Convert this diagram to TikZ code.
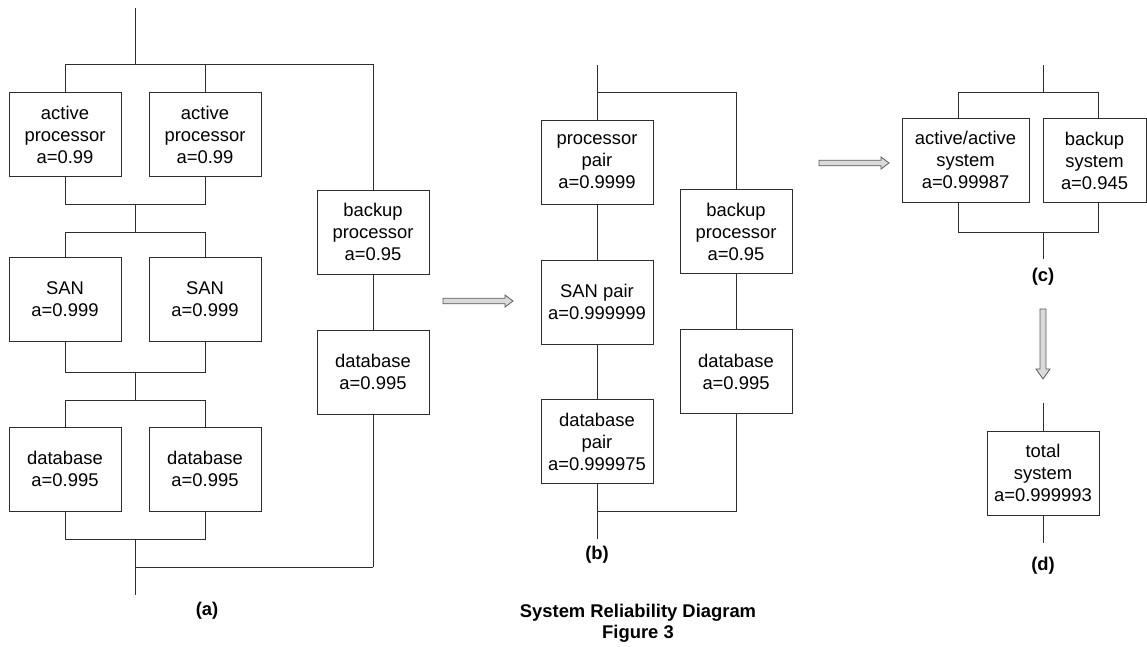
\documentclass[tikz,border=0pt]{standalone}
\usepackage{fontspec}
\setmainfont{Liberation Sans}
\usetikzlibrary{positioning, calc}
\definecolor{LN}{RGB}{45,45,45}
\definecolor{AF}{RGB}{218,218,218}
\definecolor{AD}{RGB}{90,90,90}

\begin{document}
\begin{tikzpicture}[
  x=1pt, y=-1pt,
  blk/.style={draw=LN, line width=1pt, inner sep=0pt, outer sep=0pt,
              minimum width=112pt, minimum height=84pt, align=center,
              font=\fontsize{18.4}{22}\selectfont},
  wire/.style={draw=LN, line width=1pt},
  tag/.style={font=\fontsize{18.4}{21}\selectfont\bfseries, align=center},
  fat/.style={draw=AD, fill=AF, line width=0.8pt, line join=miter}
]
\useasboundingbox (0,0) rectangle (1147,646);

% (a) active/active pairs with backup string
\coordinate (a-in)  at (135,8);
\coordinate (a-top) at (135,64);
\coordinate (a-tl)  at (65,64);
\coordinate (a-tm)  at (205,64);
\coordinate (a-tr)  at (373,64);
\foreach \n/\y/\txt in {ap/134.5/{active\\processor\\a=0.99},
                        san/299/{SAN\\a=0.999},
                        db/469/{database\\a=0.995}}{
  \node[blk] (\n-L) at (65,\y)  {\txt};
  \node[blk] (\n-R) at (205,\y) {\txt};
}
\draw[wire] (a-in) -- (a-top);
\draw[wire] (a-tl) -- (a-tr);
\draw[wire] (a-tl) -- (ap-L);
\draw[wire] (a-tm) -- (ap-R);
\foreach \u/\l/\yb/\yt in {ap/san/204/232, san/db/372/400}{
  \coordinate (\u-bl) at (65,\yb);
  \coordinate (\u-br) at (205,\yb);
  \coordinate (\u-bm) at (135,\yb);
  \coordinate (\l-tm) at (135,\yt);
  \coordinate (\l-tl) at (65,\yt);
  \coordinate (\l-tr) at (205,\yt);
  \draw[wire] (\u-L) -- (\u-bl) -- (\u-br) -- (\u-R);
  \draw[wire] (\u-bm) -- (\l-tm);
  \draw[wire] (\l-L) -- (\l-tl) -- (\l-tr) -- (\l-R);
}
\coordinate (a-bl)  at (65,539);
\coordinate (a-br)  at (205,539);
\coordinate (a-bm)  at (135,539);
\coordinate (a-jn)  at (135,567);
\coordinate (a-jr)  at (373,567);
\coordinate (a-out) at (135,595);
\draw[wire] (db-L) -- (a-bl) -- (a-br) -- (db-R);
\draw[wire] (a-bm) -- (a-out);
\draw[wire] (a-jn) -- (a-jr);
% backup string
\node[blk] (bp-a) at (373,232) {backup\\processor\\a=0.95};
\node[blk] (bd-a) at (373,372) {database\\a=0.995};
\draw[wire] (a-tr) -- (bp-a);
\draw[wire] (bp-a) -- (bd-a);
\draw[wire] (bd-a) -- (a-jr);
\node[tag] (lab-a) at (207,611) {(a)};

% arrow (a) -> (b)
\draw[fat] (443,301) ++(0,-2.75) -- ++(62,0) -- ++(0,-3.25) -- ++(8,6)
  -- ++(-8,6) -- ++(0,-3.25) -- ++(-62,0) -- cycle;

% (b) pairs reduced
\coordinate (b-in)  at (597,65);
\coordinate (b-top) at (597,92);
\coordinate (b-tr)  at (736,92);
\node[blk] (pp) at (597,162)   {processor\\pair\\a=0.9999};
\node[blk] (sp) at (597,302)   {SAN pair\\a=0.999999};
\node[blk] (dp) at (597,441.5) {database\\pair\\a=0.999975};
\node[blk] (bp-b) at (736,231.5) {backup\\processor\\a=0.95};
\node[blk] (bd-b) at (736,371.5) {database\\a=0.995};
\coordinate (b-bm)  at (597,511);
\coordinate (b-br)  at (736,511);
\coordinate (b-out) at (597,539);
\draw[wire] (b-in) -- (pp);
\draw[wire] (b-top) -- (b-tr) -- (bp-b);
\draw[wire] (pp) -- (sp);
\draw[wire] (sp) -- (dp);
\draw[wire] (dp) -- (b-out);
\draw[wire] (bp-b) -- (bd-b);
\draw[wire] (bd-b) -- (b-br) -- (b-bm);
\node[tag] (lab-b) at (597,555) {(b)};

% arrow (b) -> (c)
\draw[fat] (819,163) ++(0,-2.75) -- ++(62,0) -- ++(0,-3.25) -- ++(8,6)
  -- ++(-8,6) -- ++(0,-3.25) -- ++(-62,0) -- cycle;

% (c) active/active vs backup
\coordinate (c-in)  at (1043,65);
\coordinate (c-top) at (1043,92);
\coordinate (c-tl)  at (958,92);
\coordinate (c-tr)  at (1098,92);
\node[blk, minimum width=127pt] (aa) at (965.5,160) {active/active\\system\\a=0.99987};
\node[blk, minimum width=103pt] (bs) at (1094.5,160.5) {backup\\system\\a=0.945};
\coordinate (c-bl)  at (958,232);
\coordinate (c-br)  at (1098,232);
\coordinate (c-bm)  at (1043,232);
\coordinate (c-out) at (1043,259);
\draw[wire] (c-in) -- (c-top);
\draw[wire] (c-tl) -- (c-tr);
\draw[wire] (c-tl) -- (c-tl |- aa.north);
\draw[wire] (c-tr) -- (c-tr |- bs.north);
\draw[wire] (c-bl |- aa.south) -- (c-bl) -- (c-br) -- (c-br |- bs.south);
\draw[wire] (c-bm) -- (c-out);
\node[tag] (lab-c) at (1043,277) {(c)};

% arrow (c) -> (d)
\draw[fat] (1043,309) ++(-3,0) -- ++(0,60) -- ++(-4,0) -- ++(7,10)
  -- ++(7,-10) -- ++(-4,0) -- ++(0,-60) -- cycle;

% (d) total
\coordinate (d-in)  at (1043,403);
\coordinate (d-out) at (1043,543);
\node[blk] (ts) at (1043,473) {total\\system\\a=0.999993};
\draw[wire] (d-in) -- (ts);
\draw[wire] (ts) -- (d-out);
\node[tag] (lab-d) at (1043,566) {(d)};

\node[tag] (title) at (638,623.5) {System Reliability Diagram\\Figure 3};
\end{tikzpicture}
\end{document}
